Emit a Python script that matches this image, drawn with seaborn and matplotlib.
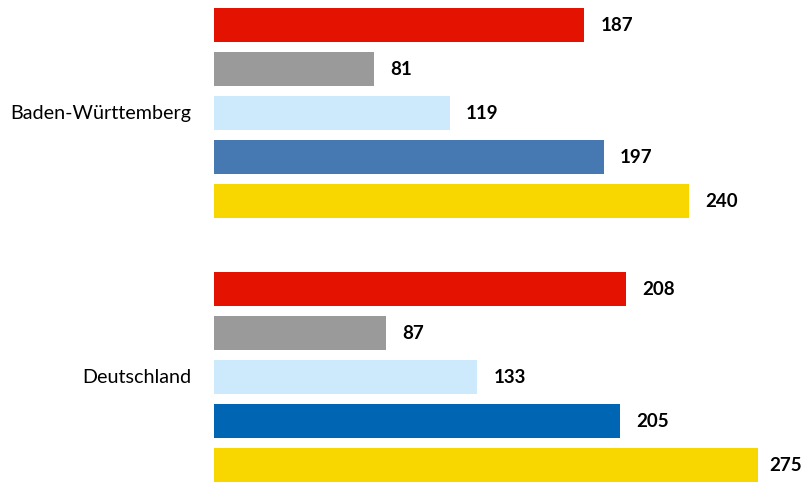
import seaborn as sns
import matplotlib.pyplot as plt
import pandas as pd

groups = ['Baden-Württemberg', 'Deutschland']
series = ['Reihe 1', 'Reihe 2', 'Reihe 3', 'Reihe 4', 'Reihe 5']
bw_values = [187, 81, 119, 197, 240]
de_values = [208, 87, 133, 205, 275]
bw_colors = ['#e41200', '#9a9a9a', '#cdeafd', '#4679b2', '#f8d600']
de_colors = ['#e41200', '#9a9a9a', '#cdeafd', '#0066b3', '#f8d600']

plt.rcParams['font.family'] = ['Lato', 'DejaVu Sans']

rows = []
for gi, (g, vals, cols) in enumerate(zip(groups, [bw_values, de_values], [bw_colors, de_colors])):
    for si, (s, v, c) in enumerate(zip(series, vals, cols)):
        rows.append({'group': g, 'series': s, 'value': v, 'pos': gi * 6 + si,
                     'key': g + '|' + s, 'color': c})
df = pd.DataFrame(rows)
palette = dict(zip(df['key'], df['color']))

fig = plt.figure(figsize=(8.02, 4.84), dpi=100)
ax = fig.add_axes([214 / 802, 0, 588 / 802, 1])
sns.barplot(data=df, x='value', y='pos', hue='key', palette=palette, orient='h',
            native_scale=True, width=0.775, dodge=False, legend=False,
            saturation=1, linewidth=0, ax=ax)

px = 1.98  # pixels per unit
xmax = 588 / px
ax.set_xlim(0, xmax)
ax.set_ylim(10.43, -0.57)
ax.axis('off')

for _, r in df.iterrows():
    x = min(r['value'] + 16 / px, xmax - 33 / px)
    ax.text(x, r['pos'], str(r['value']), va='center', ha='left',
            fontsize=13.5, fontweight='bold', color='black')

for gi, g in enumerate(groups):
    ax.annotate(g, xy=(0, gi * 6 + 2), xycoords=('axes fraction', 'data'),
                xytext=(-23, 0), textcoords='offset pixels',
                ha='right', va='center', fontsize=14.2, color='black',
                annotation_clip=False)

fig.savefig('out.png', dpi=100)
